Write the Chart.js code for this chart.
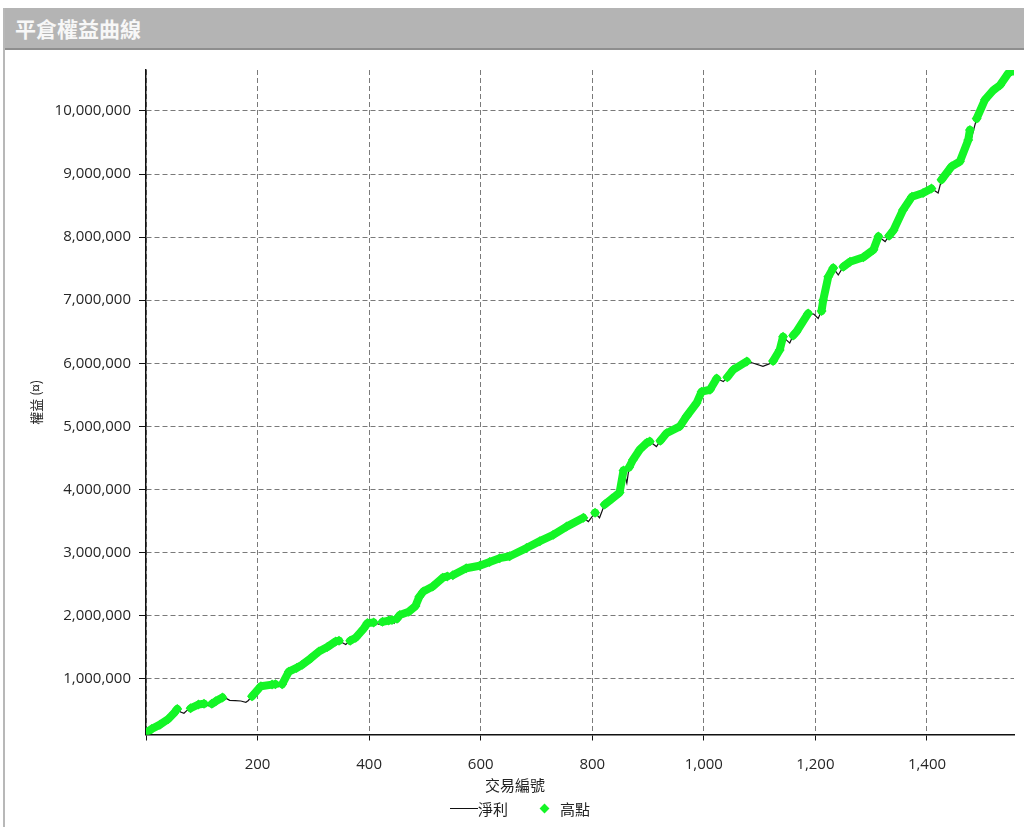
<!DOCTYPE html>
<html><head><meta charset="utf-8">
<script src="https://cdn.jsdelivr.net/npm/chart.js@4.4.1/dist/chart.umd.min.js"></script>
<style>
html,body{margin:0;padding:0;background:#fff;width:1024px;height:827px;overflow:hidden;}
#panel{position:absolute;left:3px;top:8px;width:1019px;height:819px;border-left:2px solid #b8b8b8;}
#hdr{position:absolute;left:0;top:0;right:0;height:40px;background:#b4b4b4;border-bottom:2px solid #8e8e8e;color:#f7f7f7;font:bold 21px "Noto Sans CJK TC",sans-serif;line-height:40px;padding-left:10px;}
#wrap{position:absolute;left:8px;top:51px;width:1016px;height:776px;}
#legend{position:absolute;top:798px;left:450px;font:15px "Noto Sans CJK TC",sans-serif;color:#222;display:flex;align-items:center;height:20px;}
#legend .ln{display:inline-block;width:28px;height:1px;background:#111;}
#legend .dm{display:inline-block;width:7px;height:7px;background:#14f526;transform:rotate(45deg);margin-left:33px;margin-right:12px;}
</style>
</head><body>
<div id="panel"><div id="hdr">平倉權益曲線</div></div>
<div id="wrap"><canvas id="c" width="1016" height="776"></canvas></div>
<div id="legend"><span class="ln"></span><span>淨利</span><span class="dm"></span><span>高點</span></div>
<script>
const seriesNames = ['淨利', '高點'];
const xTitle = '交易編號';
const yTitle = '權益 (¤)';
const xTickValues = [0, 200, 400, 600, 800, 1000, 1200, 1400];
const yTickValues = [1000000, 2000000, 3000000, 4000000, 5000000, 6000000, 7000000, 8000000, 9000000, 10000000];
const tradeNo = [0,10,25,40,50,56,62,68,74,80,94,104,112,118,125,137,143,150,160,170,179,183,190,206,226,232,238,244,256,270,280,295,310,325,340,346,358,366,376,390,397,408,418,424,435,441,445,450,455,471,483,490,497,514,532,540,545,550,574,598,616,634,652,682,706,730,754,784,793,805,813,822,835,849,856,862,866,873,885,898,903,915,922,933,957,969,987,996,1011,1023,1035,1042,1053,1077,1089,1106,1117,1124,1136,1142,1154,1160,1166,1187,1197,1205,1211,1214,1223,1232,1241,1250,1262,1286,1304,1313,1325,1332,1340,1357,1373,1393,1408,1420,1426,1444,1459,1474,1477,1480,1489,1504,1519,1531,1546,1555];
const equity = [140000,200000,270000,360000,450000,520000,470000,450000,500000,530000,590000,600000,570000,600000,640000,700000,690000,655000,650000,645000,625000,650000,720000,880000,905000,910000,870000,910000,1110000,1170000,1220000,1320000,1430000,1500000,1590000,1600000,1540000,1600000,1650000,1790000,1880000,1890000,1860000,1900000,1920000,1930000,1880000,1950000,2010000,2060000,2150000,2300000,2380000,2460000,2600000,2620000,2590000,2640000,2750000,2790000,2850000,2910000,2940000,3070000,3180000,3280000,3410000,3550000,3490000,3630000,3550000,3760000,3850000,3950000,4300000,4100000,4350000,4470000,4630000,4740000,4760000,4680000,4770000,4890000,5000000,5160000,5370000,5550000,5580000,5760000,5710000,5780000,5900000,6030000,6000000,5950000,5990000,6035000,6210000,6420000,6320000,6440000,6500000,6790000,6780000,6710000,6830000,7000000,7370000,7510000,7400000,7530000,7610000,7680000,7800000,8010000,7930000,8020000,8110000,8430000,8640000,8700000,8770000,8700000,8910000,9120000,9200000,9540000,9700000,9580000,9880000,10180000,10330000,10410000,10600000,10640000];
const xMin = 0, xMax = 1556;
const yMin = 114000, yMax = 10650000;

const netData = tradeNo.map((x, i) => ({x: x, y: equity[i]}));
let runMax = -Infinity;
const highData = tradeNo.map((x, i) => {
  if (equity[i] >= runMax) { runMax = equity[i]; return {x: x, y: equity[i]}; }
  return {x: x, y: null};
});
const fmt = v => Number(v).toLocaleString('en-US');
const GREEN = '#14f526';
const tickFont = {family: '"Open Sans", sans-serif', size: 15};

new Chart(document.getElementById('c'), {
  type: 'line',
  data: {datasets: [
    {label: seriesNames[0], data: netData, borderColor: '#111', borderWidth: 1.2, pointRadius: 0, order: 1, tension: 0},
    {label: seriesNames[1], data: highData, borderColor: GREEN, backgroundColor: GREEN, borderWidth: 8,
     borderCapStyle: 'round', borderJoinStyle: 'round', spanGaps: false,
     pointStyle: 'rectRot', pointRadius: 5, pointBorderWidth: 0, pointBackgroundColor: GREEN, order: 0, tension: 0}
  ]},
  options: {
    responsive: false, animation: false, devicePixelRatio: 1,
    layout: {padding: {left: 8, right: 10, top: 19, bottom: 2}},
    plugins: {
      legend: {display: false}, tooltip: {enabled: false},
      title: {display: true, text: xTitle, position: 'bottom', color: '#222',
        font: {family: '"Noto Sans CJK TC", sans-serif', size: 15, weight: 'normal', lineHeight: 1.1}, padding: {top: -11, bottom: 31}}
    },
    scales: {
      x: {type: 'linear', min: xMin, max: xMax,
        afterBuildTicks: axis => { axis.ticks = xTickValues.map(v => ({value: v})); },
        ticks: {color: '#262626', font: tickFont, padding: 15, maxRotation: 0, autoSkip: false,
          callback: v => v === 0 ? '' : fmt(v)},
        grid: {color: '#7a7a7a', lineWidth: 1, tickLength: 6, tickColor: '#111', tickBorderDash: [], drawTicks: true},
        border: {display: true, color: '#111', width: 1.5, dash: [5, 3]}
      },
      y: {type: 'linear', min: yMin, max: yMax,
        afterBuildTicks: axis => { axis.ticks = yTickValues.map(v => ({value: v})); },
        afterFit: s => { s.width = 130; },
        ticks: {color: '#262626', font: tickFont, padding: 8, autoSkip: false, callback: v => fmt(v)},
        grid: {color: '#7a7a7a', lineWidth: 1, tickLength: 7, tickColor: '#111', tickBorderDash: []},
        border: {display: true, color: '#111', width: 1.5, dash: [5, 3]},
        title: {display: true, text: yTitle, color: '#222', font: {family: '"Noto Sans CJK TC", sans-serif', size: 13}, padding: {top: 12, bottom: 0}}
      }
    }
  }
});
</script>
</body></html>
